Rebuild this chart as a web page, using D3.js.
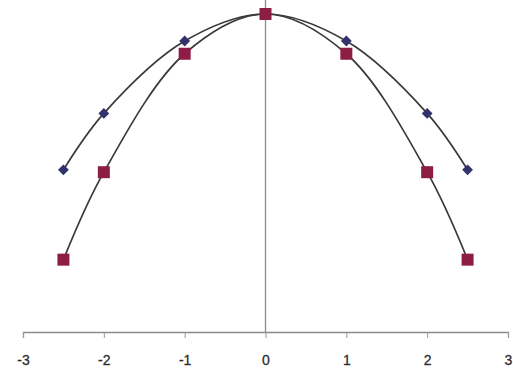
<!DOCTYPE html>
<html><head><meta charset="utf-8">
<script src="https://cdn.jsdelivr.net/npm/d3@7"></script>
<style>body{margin:0;background:#fff}svg{display:block}</style>
</head><body>
<script>
const xs = [-2.5, -2, -1, 0, 1, 2, 2.5];
const blueVals = [-0.96, -0.25, 0.66, 1, 0.66, -0.25, -0.96];
const redVals = [-2.09, -0.99, 0.5, 1, 0.5, -0.99, -2.09];
const xTicks = [-3, -2, -1, 0, 1, 2, 3];

const W = 513, H = 379;
const svg = d3.select("body").append("svg").attr("width", W).attr("height", H);
const x = d3.scaleLinear().domain([-3, 3]).range([23, 508]);
const y = d3.scaleLinear().domain([-3, 1]).range([332, 14]);

// vertical axis at x=0
svg.append("line").attr("x1", x(0)).attr("x2", x(0)).attr("y1", 0).attr("y2", y(-3))
  .attr("stroke", "#8a8a8a").attr("stroke-width", 1.3);

const ax = svg.append("g").attr("transform", `translate(0,${y(-3)})`)
  .call(d3.axisBottom(x).tickValues(xTicks).tickFormat(d => d).tickSize(6).tickPadding(17));
ax.select(".domain").attr("stroke", "#8a8a8a").attr("stroke-width", 1.3);
ax.selectAll(".tick line").attr("stroke", "#9a9a9a");
ax.selectAll(".tick text").attr("font-family", "Liberation Sans, Arial, sans-serif")
  .attr("font-size", 14).attr("fill", "#222").attr("stroke", "#444").attr("stroke-width", 0.3);

const line = d3.line().x((d, i) => x(xs[i])).y(d => y(d)).curve(d3.curveCatmullRom.alpha(0.5));

[blueVals, redVals].forEach(vals => {
  svg.append("path").datum(vals).attr("d", line).attr("fill", "none")
    .attr("stroke", "#3a3a3a").attr("stroke-width", 1.7);
});

svg.append("g").selectAll("path").data(blueVals).join("path")
  .attr("d", d3.symbol(d3.symbolDiamond2, 75))
  .attr("transform", (d, i) => `translate(${x(xs[i])},${y(d)})`)
  .attr("fill", "#33336b");

svg.append("g").selectAll("rect").data(redVals).join("rect")
  .attr("x", (d, i) => x(xs[i]) - 6).attr("y", d => y(d) - 6)
  .attr("width", 12).attr("height", 12)
  .attr("fill", "#8e1d45");
</script>
</body></html>
